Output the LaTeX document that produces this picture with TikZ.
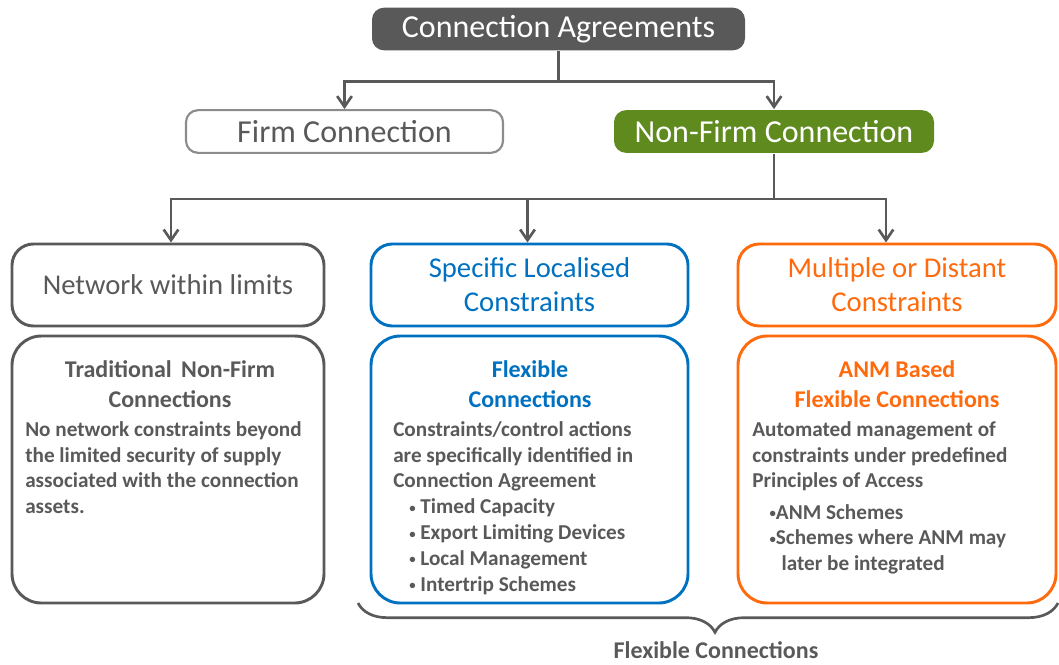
\documentclass[tikz,border=0pt]{standalone}
\usepackage{fontspec}
\setmainfont{Carlito}
\usetikzlibrary{calc, positioning, arrows.meta, decorations.pathreplacing}
\definecolor{cagray}{HTML}{595959}
\definecolor{firmgray}{HTML}{8C8C8C}
\definecolor{cagreen}{RGB}{94,138,30}
\definecolor{cablue}{HTML}{0070C0}
\definecolor{caorange}{HTML}{FF6A0D}
\newcommand{\smallbul}{\raisebox{1.2pt}{\scalebox{0.6}{\textbullet}}}

\begin{document}
\begin{tikzpicture}[x=0.75pt,y=-0.75pt,
	link/.style={draw=cagray, line width=2pt, -{Straight Barb[length=8pt,width=11pt]}},
	topbox/.style={rounded corners=9pt, line width=1.6pt, inner sep=0pt, minimum height=32pt, font=\fontsize{24}{28}\selectfont},
	headbox/.style={draw, rounded corners=16pt, line width=2.2pt, inner sep=0pt, minimum height=61.5pt, align=center, font=\fontsize{21.5}{25.5}\selectfont},
	bodybox/.style={draw, rounded corners=22pt, line width=2.2pt, inner sep=0pt, minimum height=200.25pt},
	headtext/.style={align=center, inner sep=0pt, font=\fontsize{18}{23}\selectfont\bfseries},
	bodytext/.style={anchor=north west, align=left, inner sep=0pt, text=cagray, font=\fontsize{15.9}{19.4}\selectfont\bfseries}]
\useasboundingbox (0,0) rectangle (1059,664);
	% Top levels
\node [topbox, fill=cagray, text=white, minimum width=279.75pt] (agree) at (558.5,29) {Connection Agreements};
\node [topbox, draw=firmgray, fill=white, text=cagray, minimum width=237.75pt] (firm) at (344.5,131.5) {Firm Connection};
\node [topbox, fill=cagreen, text=white, minimum width=240pt] (nonfirm) at (774,131.5) {Non-Firm Connection};
\draw [link] (agree.south) -- ++(0,30) -| (firm.north);
\draw [link] (agree.south) -- ++(0,30) -| (nonfirm.north);

	% Constraint types
\node [headbox, draw=cagray, text=cagray, minimum width=234pt] (nethead) at (168,285) {Network within limits};
\node [headbox, draw=cablue, text=cablue, minimum width=237.75pt] (spechead) at (529.5,285) {Specific Localised\\Constraints};
\node [headbox, draw=caorange, text=caorange, minimum width=238.5pt] (multhead) at (897,285) {Multiple or Distant\\Constraints};
\draw [link] (nonfirm.south) -- ++(0,45) -| ($(nethead.north)+(3,0)$);
\draw [link] (nonfirm.south) -- ++(0,45) -| ($(spechead.north)+(-2,0)$);
\draw [link] (nonfirm.south) -- ++(0,45) -| ($(multhead.north)+(-11,0)$);

	% Connection types
\node [bodybox, draw=cagray, minimum width=234pt] (netbody) at (168,469.5) {};
\node [bodybox, draw=cablue, minimum width=237.75pt] (specbody) at (529.5,469.5) {};
\node [bodybox, draw=caorange, minimum width=238.5pt] (multbody) at (897,469.5) {};

\node [headtext, text=cagray] (nettitle) at (170,384) {Traditional\, Non-Firm\\Connections};
\node [headtext, text=cablue] (spectitle) at (530,384) {Flexible\\Connections};
\node [headtext, text=caorange] (multtitle) at (897,384) {ANM Based\\Flexible Connections};

\node [bodytext] (nettext) at (25,421) {No network constraints beyond\\the limited security of supply\\associated with the connection\\assets.};
\node [bodytext] (spectext) at (393,421) {Constraints/control actions\\are specifically identified in\\Connection Agreement\\
	\hspace*{12pt}\smallbul\ Timed Capacity\\
	\hspace*{12pt}\smallbul\ Export Limiting Devices\\
	\hspace*{12pt}\smallbul\ Local Management\\
	\hspace*{12pt}\smallbul\ Intertrip Schemes};
\node [bodytext] (multtext) at (752,421) {Automated management of\\constraints under predefined\\Principles of Access\\[4pt]
	\hspace*{13pt}\smallbul ANM Schemes\\
	\hspace*{13pt}\smallbul Schemes where ANM may\\
	\hspace*{22pt}later be integrated};

	% Brace
\coordinate (brR) at (1058,603);
\coordinate (brL) at (358,603);
\draw [draw=cagray, line width=2pt, decorate, decoration={brace, amplitude=22pt, aspect=0.49}] (brR) -- (brL);
\node [headtext, text=cagray] (flexlabel) at (716,650) {Flexible Connections};
\end{tikzpicture}
\end{document}
